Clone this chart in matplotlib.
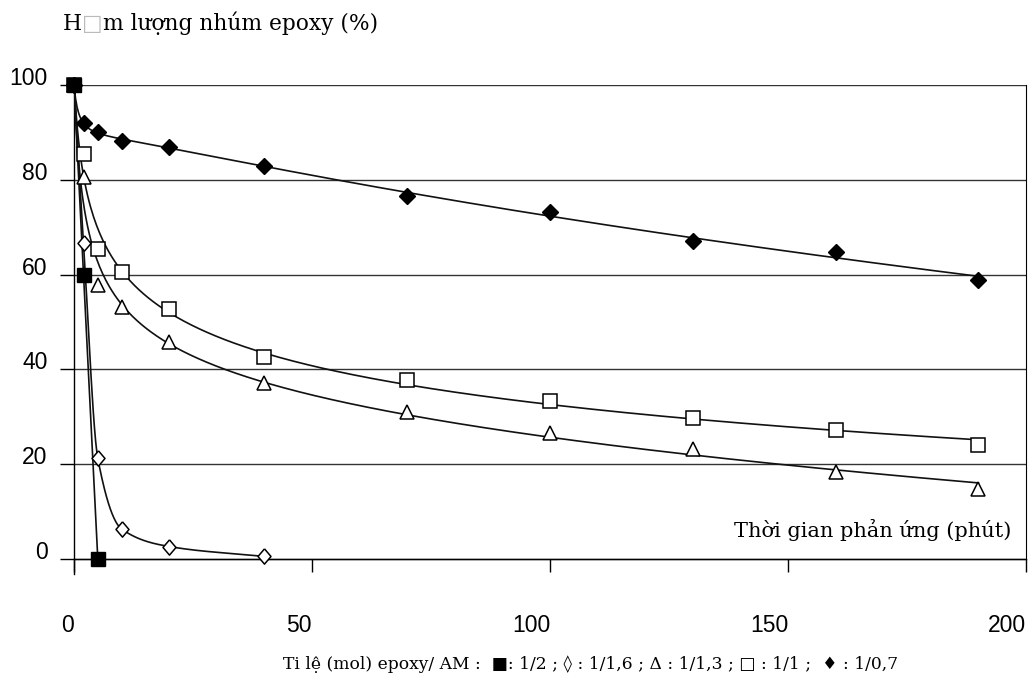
import numpy as np
import matplotlib
matplotlib.use("Agg")
from matplotlib import pyplot as plt
from matplotlib.transforms import ScaledTranslation

# reaction time (min)
t_long = [0, 2, 5, 10, 20, 40, 70, 100, 130, 160, 190]
t_open_diamond = [0, 2, 5, 10, 20, 40]
t_filled_square = [0, 2, 5]

# epoxy group content (%)
y_filled_square = [100, 60, 0]             # 1/2
y_open_diamond = [100, 66.7, 21.2, 6.3, 2.6, 0.5]   # 1/1,6
y_triangle = [100, 80.5, 57.8, 53.2, 45.7, 37.1, 30.9, 26.6, 23.1, 18.4, 14.7]  # 1/1,3
y_square = [100, 85.4, 65.4, 60.6, 52.7, 42.5, 37.8, 33.4, 29.7, 27.2, 24.1]    # 1/1
y_filled_diamond = [100, 92, 90, 88.2, 87, 82.9, 76.6, 73.1, 67.1, 64.7, 58.9]  # 1/0,7

y_ticks = [0, 20, 40, 60, 80, 100]
x_ticks = [0, 50, 100, 150, 200]


def pchip(x, y, xs):
    # monotone cubic (Fritsch-Carlson) for a smooth line through the points
    x = np.asarray(x, float)
    y = np.asarray(y, float)
    h = np.diff(x)
    d = np.diff(y) / h
    m = np.zeros_like(y)
    m[0] = d[0]
    m[-1] = d[-1]
    for k in range(1, len(x) - 1):
        if d[k - 1] * d[k] > 0:
            w1 = 2 * h[k] + h[k - 1]
            w2 = h[k] + 2 * h[k - 1]
            m[k] = (w1 + w2) / (w1 / d[k - 1] + w2 / d[k])
    idx = np.clip(np.searchsorted(x, xs) - 1, 0, len(x) - 2)
    s = (xs - x[idx]) / h[idx]
    h00 = 2 * s**3 - 3 * s**2 + 1
    h10 = s**3 - 2 * s**2 + s
    h01 = -2 * s**3 + 3 * s**2
    h11 = s**3 - s**2
    return h00 * y[idx] + h10 * h[idx] * m[idx] + h01 * y[idx + 1] + h11 * h[idx] * m[idx + 1]


def log_fit(x, y, xs, deg=3):
    # trend line: polynomial in log(t+1)
    u = np.log(np.asarray(x, float) + 1)
    p = np.polyfit(u, y, deg)
    return np.polyval(p, np.log(xs + 1))


fig = plt.figure(figsize=(10.3, 6.87), dpi=100)
ax = fig.add_axes([74 / 1030, 1 - 574 / 687, (1026 - 74) / 1030, (574 - 85) / 687])

ax.set_xlim(0, 200)
ax.set_ylim(-3.2, 100)

for yv in y_ticks:
    ax.axhline(yv, color="#333333", lw=1.0, zorder=1)

xs = np.linspace(0, 190, 600)
lc = "#111111"
ax.plot(t_filled_square, y_filled_square, color=lc, lw=1.2, zorder=3)
xs_d = np.linspace(0, 40, 300)
ax.plot(xs_d, np.clip(pchip(t_open_diamond, y_open_diamond, xs_d), 0, None), color=lc, lw=1.2, zorder=3)
ax.plot(xs, log_fit(t_long, y_triangle, xs), color=lc, lw=1.2, zorder=3)
ax.plot(xs, log_fit(t_long, y_square, xs), color=lc, lw=1.2, zorder=3)
ax.plot(xs, log_fit(t_long, y_filled_diamond, xs), color=lc, lw=1.2, zorder=3)

tall_diamond = [(0, 1), (0.85, 0), (0, -1), (-0.85, 0), (0, 1)]
ax.plot(t_long, y_filled_diamond, "D", ms=8, color="black", clip_on=False, zorder=4)
ax.plot(t_long, y_square, "s", ms=9.5, mfc="white", mec="black", mew=1.1, clip_on=False, zorder=4)
ax.plot(t_long, y_triangle, "^", ms=10.5, mfc="white", mec="black", mew=1.1, clip_on=False, zorder=4)
ax.plot(t_open_diamond, y_open_diamond, marker=tall_diamond, ls="none", ms=11,
        mfc="white", mec="black", mew=1.1, clip_on=False, zorder=4)
ax.plot(t_filled_square, y_filled_square, "s", ms=10, color="black", clip_on=False, zorder=5)

ax.spines["top"].set_visible(False)
ax.spines["bottom"].set_position(("data", 0))
ax.spines["bottom"].set_linewidth(1.0)
ax.spines["right"].set_bounds(0, 100)
ax.spines["left"].set_linewidth(1.0)

ax.set_xticks(x_ticks)
ax.set_yticks(y_ticks)
ax.tick_params(axis="x", direction="out", length=9, width=1, pad=31, labelsize=16.5)
ax.tick_params(axis="y", direction="out", length=10, width=1, pad=9, labelsize=16.5)
for lab in ax.get_xticklabels():
    lab.set_fontfamily("Liberation Sans")
    lab.set_ha("right")
for lab in ax.get_yticklabels():
    lab.set_fontfamily("Liberation Sans")
    lab.set_transform(lab.get_transform() + ScaledTranslation(0, 0.09, fig.dpi_scale_trans))

serif = ["DejaVu Serif"]
t1 = fig.text(63 / 1030, 1 - 30 / 687, "H", family=serif, fontsize=15.7, va="baseline")
t2 = ax.annotate("\u25a1", xy=(1, 0), xycoords=t1, va="bottom", ha="left",
                 family=serif, fontsize=15.7, color="#bbbbbb", annotation_clip=False)
ax.annotate("m lượng nhúm epoxy (%)", xy=(1, 0), xycoords=t2, va="bottom", ha="left",
            family=serif, fontsize=15.7, annotation_clip=False)

ax.text(0.985, 0.09, "Thời gian phản ứng (phút)", transform=ax.transAxes,
        ha="right", va="center", family=serif, fontsize=15)

fig.text(591 / 1030, 1 - 664 / 687,
         "Ti lệ (mol) epoxy/ AM :  \u25a0: 1/2 ; \u25ca : 1/1,6 ; \u0394 : 1/1,3 ; \u25a1 : 1/1 ;  \u2666 : 1/0,7",
         ha="center", va="center", family=serif, fontsize=12.3)

fig.savefig("out.png", dpi=100)
